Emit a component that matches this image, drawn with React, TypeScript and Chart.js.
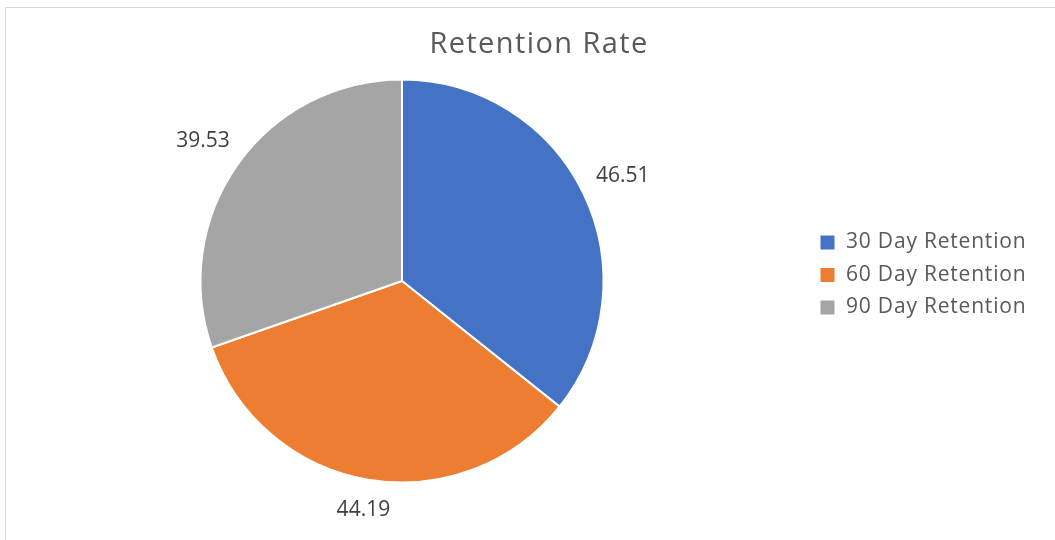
import React, { useEffect, useRef } from "react";
import { Chart, registerables } from "chart.js";

Chart.register(...registerables);

const categories: string[] = ["30 Day Retention", "60 Day Retention", "90 Day Retention"];
const retentionValues: number[] = [46.51, 44.19, 39.53];
const sliceColors: string[] = ["#4472C4", "#ED7D31", "#A5A5A5"];
const chartTitle = "Retention Rate";

const FONT = "'Open Sans', sans-serif";

const outsideLabels = {
  id: "outsideLabels",
  afterDatasetsDraw(chart: any) {
    const ctx = chart.ctx as CanvasRenderingContext2D;
    const meta = chart.getDatasetMeta(0);
    const data = chart.data.datasets[0].data as number[];
    ctx.save();
    ctx.font = `21px ${FONT}`;
    ctx.fillStyle = "#404040";
    ctx.textAlign = "center";
    ctx.textBaseline = "middle";
    meta.data.forEach((arc: any, i: number) => {
      const { x, y, startAngle, endAngle, outerRadius } = arc.getProps(
        ["x", "y", "startAngle", "endAngle", "outerRadius"],
        true
      );
      const mid = (startAngle + endAngle) / 2;
      const text = Number(data[i]).toFixed(2);
      const w = ctx.measureText(text).width;
      const c = Math.cos(mid);
      const s = Math.sin(mid);
      const ext = (w / 2) * Math.abs(c) + 9 * Math.abs(s);
      const d = outerRadius + 15.5 + ext;
      ctx.fillText(text, x + d * c, y + d * s + 1.5);
    });
    ctx.restore();
  },
};

const styleHooks = {
  id: "styleHooks",
  afterInit(chart: any) {
    const legend = chart.legend;
    const title = chart.titleBlock;
    if (legend && !legend.__wrapped) {
      legend.__wrapped = true;
      const fit0 = legend.fit;
      legend.fit = function (this: any) {
        fit0.call(this);
        this.width = 274;
      };
      const draw0 = legend.draw;
      legend.draw = function (this: any, ...a: any[]) {
        const c = this.ctx;
        c.save();
        c.letterSpacing = "0.8px";
        draw0.apply(this, a);
        c.restore();
      };
    }
    if (title && !title.__wrapped) {
      title.__wrapped = true;
      const draw1 = title.draw;
      title.draw = function (this: any, ...a: any[]) {
        const c = this.ctx;
        c.save();
        c.letterSpacing = "1.4px";
        draw1.apply(this, a);
        c.restore();
      };
    }
  },
};

export default function App() {
  const ref = useRef<HTMLCanvasElement>(null);
  useEffect(() => {
    if (!ref.current) return;
    const chart = new Chart(ref.current, {
      type: "pie",
      data: {
        labels: categories,
        datasets: [
          {
            data: retentionValues,
            backgroundColor: sliceColors,
            borderColor: "#ffffff",
            borderWidth: 2,
            hoverBorderWidth: 2,
            hoverOffset: 0,
          } as any,
        ],
      },
      options: {
        responsive: false,
        animation: false,
        layout: { padding: { top: 0, left: 0, right: 0, bottom: 56.5 } },
        plugins: {
          title: {
            display: true,
            text: chartTitle,
            color: "#595959",
            font: { family: FONT, size: 29, weight: "normal" as any, lineHeight: 1.2 },
            padding: { top: 27.5, bottom: 16.2 },
          },
          legend: {
            position: "right",
            align: "center",
            labels: {
              color: "#595959",
              font: { family: FONT, size: 21 },
              boxWidth: 16,
              boxHeight: 16,
              padding: 11.5,
            },
            title: {
              display: true,
              text: "",
              padding: { top: 26, bottom: 26 },
              font: { size: 12, lineHeight: 1.2 },
            },
          },
          tooltip: { enabled: false },
        },
      } as any,
      plugins: [styleHooks, outsideLabels],
    });
    return () => chart.destroy();
  }, []);

  return (
    <div
      style={{
        position: "absolute",
        left: 0,
        top: 0,
        width: 1055,
        height: 540,
        overflow: "hidden",
        background: "#ffffff",
      }}
    >
      <div
        style={{
          position: "absolute",
          left: 5,
          top: 7,
          width: 1200,
          height: 700,
          border: "1px solid #d9d9d9",
          boxSizing: "border-box",
        }}
      />
      <canvas
        ref={ref}
        width={1086}
        height={540}
        style={{ position: "absolute", left: -4, top: 0, width: 1086, height: 540 }}
      />
    </div>
  );
}
